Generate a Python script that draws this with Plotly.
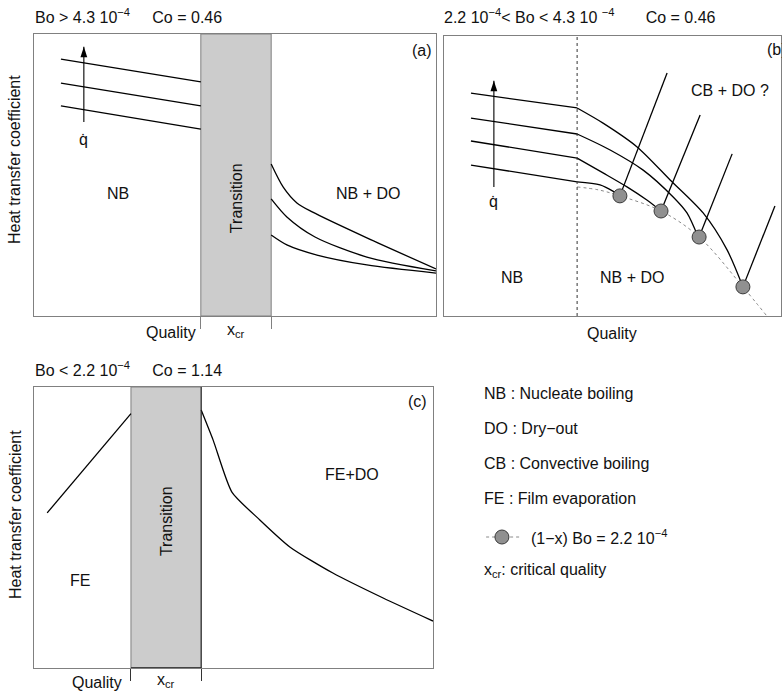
import plotly.graph_objects as go

W, H = 782, 696
FONT = "Liberation Sans, Arial, Helvetica, sans-serif"
FS = 16

# ---------------- data (normalised quality / heat-transfer units) ----------------
# panel (a)
A_BAND = [0.415, 0.59]
A_NB_X = [0.067, 0.415]
A_NB_Y = [[0.911, 0.830], [0.826, 0.745], [0.745, 0.663]]
A_DO_X = [[0.59, 0.62, 0.654, 0.692, 0.828, 1.0],
          [0.59, 0.629, 0.699, 0.828, 1.0],
          [0.59, 0.629, 0.704, 0.828, 1.0]]
A_DO_Y = [[0.539, 0.457, 0.401, 0.369, 0.277, 0.167],
          [0.415, 0.351, 0.28, 0.209, 0.16],
          [0.287, 0.252, 0.216, 0.181, 0.152]]
A_ARROW_X = [0.124, 0.124]
A_ARROW_Y = [0.688, 0.955]

# panel (b)
B_SPLIT = 0.395
B_NB_X = [0.080, 0.395]
B_NB_Y = [[0.796, 0.743], [0.707, 0.650], [0.625, 0.564], [0.539, 0.479]]
B_DO_X = [[0.395, 0.472, 0.573, 0.671, 0.769, 0.840, 0.887],
          [0.395, 0.493, 0.591, 0.680, 0.721, 0.754],
          [0.395, 0.472, 0.543, 0.602, 0.644],
          [0.395, 0.463, 0.501, 0.522]]
B_DO_Y = [[0.743, 0.689, 0.604, 0.486, 0.368, 0.236, 0.104],
          [0.650, 0.593, 0.521, 0.425, 0.368, 0.282],
          [0.564, 0.511, 0.461, 0.414, 0.375],
          [0.479, 0.468, 0.446, 0.429]]
B_PT_X = [0.522, 0.644, 0.757, 0.887]
B_PT_Y = [0.429, 0.375, 0.282, 0.104]
B_CB_X = [0.662, 0.760, 0.855, 0.982]
B_CB_Y = [0.868, 0.718, 0.579, 0.393]
B_LIM_X = [0.395, 0.46, 0.522, 0.644, 0.757, 0.887, 0.958]
B_LIM_Y = [0.461, 0.450, 0.429, 0.375, 0.282, 0.104, 0.0]
B_ARROW_X = [0.148, 0.148]
B_ARROW_Y = [0.461, 0.84]

# panel (c)
C_BAND = [0.243, 0.419]
C_FE_X = [0.033, 0.243]
C_FE_Y = [0.552, 0.905]
C_DO_X = [0.419, 0.449, 0.496, 0.566, 0.642, 0.749, 0.875, 1.0]
C_DO_Y = [0.918, 0.811, 0.626, 0.527, 0.43, 0.338, 0.249, 0.167]

LEGEND_TEXT = ["NB : Nucleate boiling", "DO : Dry\u2212out", "CB : Convective boiling",
               "FE : Film evaporation", "(1\u2212x) Bo = 2.2 10<sup>\u22124</sup>",
               "x<sub>cr</sub>: critical quality"]

NB = "\u00a0"
TITLE_A = "Bo > 4.3 10<sup>\u22124</sup>" + NB * 5 + "Co = 0.46"
TITLE_B = "2.2 10<sup>\u22124</sup>< Bo < 4.3 10 <sup>\u22124</sup>" + NB * 7 + "Co = 0.46"
TITLE_C = "Bo < 2.2 10<sup>\u22124</sup>" + NB * 5 + "Co = 1.14"

# ---------------- layout helpers ----------------
def px_x(p):
    return p / W

def px_y(p):
    return 1 - p / H

fig = go.Figure()
LINE = dict(color="black", width=1.3)
SPL = dict(color="black", width=1.3, shape="spline", smoothing=0.8)
MARK = dict(size=14, color="#909090", line=dict(color="#3a3a3a", width=1))

def arrow(xs, ys, xa, ya):
    fig.add_trace(go.Scatter(x=xs, y=ys, mode="lines", line=dict(color="black", width=1.1),
                             xaxis=xa, yaxis=ya))
    fig.add_trace(go.Scatter(x=[xs[1]], y=[ys[1]], mode="markers",
                             marker=dict(symbol="arrow", size=11, color="black", line=dict(width=0)),
                             xaxis=xa, yaxis=ya))

# panel (a)
for yy in A_NB_Y:
    fig.add_trace(go.Scatter(x=A_NB_X, y=yy, mode="lines", line=LINE, xaxis="x", yaxis="y"))
for xx, yy in zip(A_DO_X, A_DO_Y):
    fig.add_trace(go.Scatter(x=xx, y=yy, mode="lines", line=SPL, xaxis="x", yaxis="y"))
arrow(A_ARROW_X, A_ARROW_Y, "x", "y")

# panel (b)
for yy in B_NB_Y:
    fig.add_trace(go.Scatter(x=B_NB_X, y=yy, mode="lines", line=LINE, xaxis="x2", yaxis="y2"))
for xx, yy in zip(B_DO_X, B_DO_Y):
    fig.add_trace(go.Scatter(x=xx, y=yy, mode="lines", line=SPL, xaxis="x2", yaxis="y2"))
fig.add_trace(go.Scatter(x=B_LIM_X, y=B_LIM_Y, mode="lines",
                         line=dict(color="#8a8a8a", width=1, dash="dot", shape="spline"),
                         xaxis="x2", yaxis="y2"))
for px0, py0, px1, py1 in zip(B_PT_X, B_PT_Y, B_CB_X, B_CB_Y):
    fig.add_trace(go.Scatter(x=[px0, px1], y=[py0, py1], mode="lines", line=LINE, xaxis="x2", yaxis="y2"))
fig.add_trace(go.Scatter(x=B_PT_X, y=B_PT_Y, mode="markers", marker=MARK, xaxis="x2", yaxis="y2"))
fig.add_trace(go.Scatter(x=[B_SPLIT, B_SPLIT], y=[0, 1], mode="lines",
                         line=dict(color="#333", width=1, dash="dot"), xaxis="x2", yaxis="y2"))
arrow(B_ARROW_X, B_ARROW_Y, "x2", "y2")

# panel (c)
fig.add_trace(go.Scatter(x=C_FE_X, y=C_FE_Y, mode="lines", line=LINE, xaxis="x3", yaxis="y3"))
fig.add_trace(go.Scatter(x=C_DO_X, y=C_DO_Y, mode="lines",
                         line=dict(color="black", width=1.3, shape="spline", smoothing=0.6),
                         xaxis="x3", yaxis="y3"))

# legend sample (invisible axis)
fig.add_trace(go.Scatter(x=[0.052, 0.161], y=[0.5, 0.5], mode="lines",
                         line=dict(color="#8a8a8a", width=1, dash="dot"), xaxis="x4", yaxis="y4"))
fig.add_trace(go.Scatter(x=[0.103], y=[0.5], mode="markers", marker=MARK, xaxis="x4", yaxis="y4"))

fig.update_traces(showlegend=False, hoverinfo="skip")

FRAME = "#808080"

def ax(domain, tickvals=None, tickcolor=FRAME):
    d = dict(domain=domain, range=[0, 1], showgrid=False, zeroline=False, showticklabels=False,
             showline=True, mirror=True, linecolor=FRAME, linewidth=1, fixedrange=True)
    if tickvals:
        d.update(tickvals=tickvals, ticks="outside", ticklen=12, tickcolor=tickcolor, tickwidth=1)
    else:
        d.update(ticks="")
    return d

fig.update_layout(
    width=W, height=H, margin=dict(l=0, r=0, t=0, b=0),
    paper_bgcolor="white", plot_bgcolor="white",
    font=dict(family=FONT, size=FS, color="#111"),
    xaxis=ax([px_x(34), px_x(436)], A_BAND),
    yaxis=ax([px_y(316), px_y(34)]),
    xaxis2=dict(ax([px_x(444), px_x(781)]), anchor="y2"),
    yaxis2=dict(ax([px_y(316), px_y(36)]), anchor="x2"),
    xaxis3=dict(ax([px_x(34), px_x(433)], C_BAND, "#333"), anchor="y3"),
    yaxis3=dict(ax([px_y(668), px_y(387)]), anchor="x3"),
    xaxis4=dict(domain=[px_x(470), px_x(780)], range=[0, 1], visible=False, anchor="y4", fixedrange=True),
    yaxis4=dict(domain=[px_y(547), px_y(527)], range=[0, 1], visible=False, anchor="x4", fixedrange=True),
)

shapes = []
shapes.append(dict(type="rect", xref="x", yref="y", x0=A_BAND[0], x1=A_BAND[1], y0=0, y1=1,
                   fillcolor="#cccccc", line=dict(color=FRAME, width=1), layer="below"))
shapes.append(dict(type="rect", xref="x3", yref="y3", x0=C_BAND[0], x1=C_BAND[1], y0=0, y1=1,
                   fillcolor="#cccccc", line=dict(color=FRAME, width=1), layer="below"))
shapes.append(dict(type="line", xref="x3", yref="y3", x0=C_BAND[1], x1=C_BAND[1], y0=0, y1=1,
                   line=dict(color="#222", width=1)))
shapes.append(dict(type="line", xref="x3", yref="y3", x0=C_BAND[0], x1=C_BAND[1], y0=0, y1=0,
                   line=dict(color="#222", width=1.5)))
fig.update_layout(shapes=shapes)

ann = []

def T(text, x, y, xref, yref, angle=0, xanchor="center", size=FS):
    ann.append(dict(text=text, x=x, y=y, xref=xref, yref=yref, showarrow=False, textangle=angle,
                    xanchor=xanchor, yanchor="middle", font=dict(size=size, family=FONT, color="#111")))

# titles
T(TITLE_A, px_x(33), px_y(16), "paper", "paper", xanchor="left")
T(TITLE_B, px_x(442), px_y(16), "paper", "paper", xanchor="left")
T(TITLE_C, px_x(33), px_y(369), "paper", "paper", xanchor="left")
# y titles
T("Heat transfer coefficient", px_x(15), px_y(160), "paper", "paper", angle=-90)
T("Heat transfer coefficient", px_x(15), px_y(515), "paper", "paper", angle=-90)

# panel (a) labels
T("NB", 0.209, 0.436, "x", "y")
T("NB + DO", 0.831, 0.436, "x", "y")
T("Transition", sum(A_BAND) / 2, 0.418, "x", "y", angle=-90)
T("(a)", 0.965, 0.943, "x", "y")
T("q\u0307", A_ARROW_X[0], 0.625, "x", "y")
T("Quality", 0.341, -0.057, "x", "y domain")
T("x<sub>cr</sub>", sum(A_BAND) / 2, -0.05, "x", "y domain")

# panel (b) labels
T("NB", 0.202, 0.139, "x2", "y2")
T("NB + DO", 0.558, 0.139, "x2", "y2")
T("CB + DO ?", 0.849, 0.807, "x2", "y2")
T("(b)", 0.953, 0.95, "x2", "y2", xanchor="left")
T("q\u0307", B_ARROW_X[0], 0.41, "x2", "y2")
T("Quality", 0.499, -0.061, "x2", "y2 domain")

# panel (c) labels
T("FE", 0.115, 0.313, "x3", "y3")
T("FE+DO", 0.797, 0.69, "x3", "y3")
T("Transition", sum(C_BAND) / 2, 0.523, "x3", "y3", angle=-90)
T("(c)", 0.962, 0.95, "x3", "y3")
T("Quality", 0.158, -0.053, "x3", "y3 domain")
T("x<sub>cr</sub>", sum(C_BAND) / 2, -0.043, "x3", "y3 domain")

# legend text
LEG_Y = [393, 428, 463, 498, 537, 570]
for i, (txt, yy) in enumerate(zip(LEGEND_TEXT, LEG_Y)):
    x0 = 529 if i == 4 else 482
    T(txt, px_x(x0), px_y(yy), "paper", "paper", xanchor="left")

fig.update_layout(annotations=ann)
fig.write_html("out.html", config={"displayModeBar": False, "staticPlot": True},
               post_script="document.body.style.margin='0';document.body.style.overflow='hidden';")
